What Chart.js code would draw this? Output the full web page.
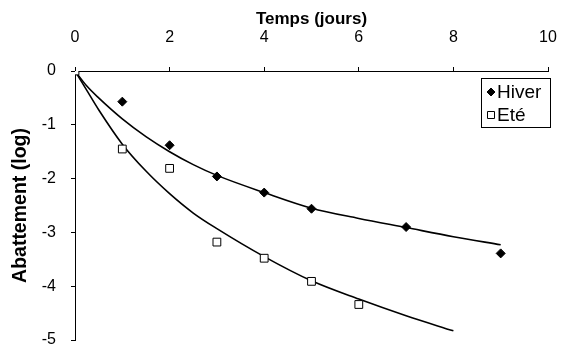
<!DOCTYPE html>
<html>
<head>
<meta charset="utf-8">
<script src="https://cdn.jsdelivr.net/npm/chart.js@4.4.0/dist/chart.umd.min.js"></script>
<style>
  html, body { margin: 0; padding: 0; background: #fff; }
  #wrap { width: 561px; height: 348px; }
</style>
</head>
<body>
<div id="wrap"><canvas id="abattementChart"></canvas></div>
<script>
// mesures (points)
const hiverJours = [0, 1, 2, 3, 4, 5, 7, 9];
const hiverLog = [0, -0.57, -1.38, -1.96, -2.26, -2.56, -2.90, -3.39];
const eteJours = [0, 1, 2, 3, 4, 5, 6];
const eteLog = [0, -1.45, -1.81, -3.18, -3.48, -3.91, -4.34];

// courbes ajustées
const hiverCourbeJours = [0, 0.25, 0.5, 1, 1.5, 2, 2.5, 3, 4, 5, 6, 7, 8, 9];
const hiverCourbeLog = [0, -0.28, -0.5, -0.89, -1.22, -1.5, -1.74, -1.94, -2.26, -2.55, -2.74, -2.91, -3.08, -3.23];
const eteCourbeJours = [0, 0.25, 0.5, 1, 1.5, 2, 2.5, 3, 4, 5, 6, 7, 8];
const eteCourbeLog = [0, -0.36, -0.72, -1.36, -1.86, -2.28, -2.64, -2.93, -3.45, -3.90, -4.24, -4.55, -4.83];

const xTicks = [0, 2, 4, 6, 8, 10];
const yTicks = [0, -1, -2, -3, -4, -5];

const police = '"Liberation Sans", Arial, sans-serif';

function paires(xs, ys) {
    return xs.map((x, i) => ({ x: x, y: ys[i] }));
}

// légende encadrée dans le coin haut droit
const legendeEncadree = {
    id: 'legendeEncadree',
    afterDraw(chart) {
        const ctx = chart.ctx;
        const area = chart.chartArea;
        const entrees = chart.data.datasets.filter(d => d.enLegende);
        const largeur = 69, ligne = 23;
        const x0 = Math.round(area.right + 2 - largeur), y0 = Math.round(area.top + 7);
        ctx.save();
        ctx.fillStyle = '#fff';
        ctx.fillRect(x0, y0, largeur, entrees.length * ligne + 3);
        ctx.strokeStyle = '#000';
        ctx.lineWidth = 1;
        ctx.strokeRect(x0 + 0.5, y0 + 0.5, largeur, entrees.length * ligne + 3);
        ctx.font = '19px ' + police;
        ctx.textBaseline = 'middle';
        entrees.forEach((d, i) => {
            const cy = y0 + 14 + i * ligne;
            const cx = x0 + 10;
            ctx.beginPath();
            if (d.pointStyle === 'rectRot') {
                ctx.moveTo(cx, cy - 4);
                ctx.lineTo(cx + 4, cy);
                ctx.lineTo(cx, cy + 4);
                ctx.lineTo(cx - 4, cy);
                ctx.closePath();
            } else {
                ctx.rect(cx - 3.5, cy - 3.5, 7, 7);
            }
            ctx.fillStyle = d.backgroundColor;
            ctx.fill();
            ctx.strokeStyle = d.borderColor;
            ctx.stroke();
            ctx.fillStyle = '#000';
            ctx.fillText(d.label, x0 + 16, cy + 1);
        });
        ctx.restore();
    }
};

new Chart(document.getElementById('abattementChart'), {
    type: 'scatter',
    data: {
        datasets: [
            {
                label: 'Hiver',
                data: paires(hiverJours, hiverLog),
                pointStyle: 'rectRot',
                pointRadius: 4.5,
                backgroundColor: '#000',
                borderColor: '#000',
                borderWidth: 1,
                showLine: false,
                enLegende: true,
                order: 1
            },
            {
                label: 'Eté',
                data: paires(eteJours, eteLog),
                pointStyle: 'rect',
                pointRadius: 5.5,
                backgroundColor: '#fff',
                borderColor: '#000',
                borderWidth: 1,
                showLine: false,
                enLegende: true,
                order: 0
            },
            {
                label: 'Hiver (ajustement)',
                data: paires(hiverCourbeJours, hiverCourbeLog),
                showLine: true,
                pointRadius: 0,
                borderColor: '#000',
                borderWidth: 1.6,
                cubicInterpolationMode: 'monotone',
                order: 2
            },
            {
                label: 'Eté (ajustement)',
                data: paires(eteCourbeJours, eteCourbeLog),
                showLine: true,
                pointRadius: 0,
                borderColor: '#000',
                borderWidth: 1.6,
                cubicInterpolationMode: 'monotone',
                order: 2
            }
        ]
    },
    options: {
        responsive: true,
        maintainAspectRatio: false,
        animation: false,
        layout: { padding: { left: 0, right: 13, top: 0, bottom: 8 } },
        plugins: {
            legend: { display: false },
            tooltip: { enabled: false }
        },
        scales: {
            x: {
                type: 'linear',
                position: 'top',
                min: 0,
                max: 10,
                afterBuildTicks: (s) => { s.ticks = xTicks.map(v => ({ value: v })); },
                afterFit: (s) => { s.height = 71; s.paddingLeft = 0; s.paddingRight = 0; },
                ticks: { color: '#000', font: { family: police, size: 16 }, padding: 20 },
                grid: { drawOnChartArea: false, drawTicks: true, tickLength: 4, color: '#000' },
                border: { color: '#000', width: 1 },
                title: {
                    display: true,
                    text: 'Temps (jours)',
                    color: '#000',
                    font: { family: police, size: 17, weight: 'bold' },
                    padding: { top: 9, bottom: 0 }
                }
            },
            y: {
                type: 'linear',
                min: -5,
                max: 0,
                afterBuildTicks: (s) => { s.ticks = yTicks.map(v => ({ value: v })); },
                afterFit: (s) => { s.width = 75; s.paddingTop = 0; s.paddingBottom = 0; },
                ticks: { color: '#000', font: { family: police, size: 16 }, padding: 15 },
                grid: { drawOnChartArea: false, drawTicks: true, tickLength: 4, color: '#000' },
                border: { color: '#000', width: 1 },
                title: {
                    display: true,
                    text: 'Abattement (log)',
                    color: '#000',
                    font: { family: police, size: 19.5, weight: 'bold' },
                    padding: { top: 9, bottom: 0 }
                }
            }
        }
    },
    plugins: [legendeEncadree]
});
</script>
</body>
</html>
